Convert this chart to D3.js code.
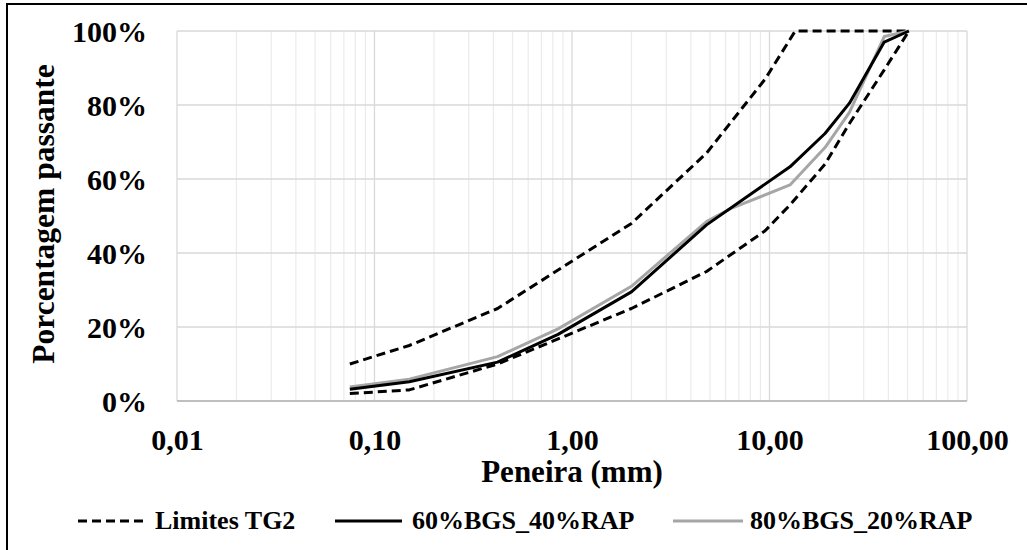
<!DOCTYPE html>
<html lang="pt">
  <head>
    <meta charset="UTF-8" />
    <title>Curva granulométrica</title>
    <style>
      body { margin: 0; background: #fff; }
      text { font-family: "Liberation Serif", "Times New Roman", serif; font-weight: bold; }
    </style>
  </head>
  <body>
    <script src="https://d3js.org/d3.v7.min.js"></script>
    <script>
      // limites da faixa TG2
      const limUpX = [0.075, 0.15, 0.42, 2.0, 4.8, 9.5, 13.5, 50.8];
      const limUpY = [10, 15, 25, 48, 67, 87, 100, 100];
      const limLowX = [0.075, 0.15, 0.42, 2.0, 4.8, 9.5, 12.7, 19.1, 25.4, 38.1, 50.8];
      const limLowY = [2, 3, 10, 25, 35, 46, 53, 64, 75, 89.5, 100];

      // misturas
      const mixAX = [0.075, 0.15, 0.42, 0.85, 2.0, 4.8, 12.7, 19.1, 25.4, 38.1, 50.8];
      const mixAY = [3.2, 5.2, 10.5, 18, 29.5, 47.6, 63.3, 72.3, 80.5, 97, 100];
      const mixBX = [0.075, 0.15, 0.42, 0.85, 2.0, 4.8, 6.35, 12.7, 19.1, 25.4, 38.1, 50.8];
      const mixBY = [3.8, 5.9, 12, 19.5, 31, 48.5, 52, 58.4, 68.5, 78, 98.5, 100];

      const xTicks = [0.01, 0.1, 1, 10, 100];
      const xTickLabels = ["0,01", "0,10", "1,00", "10,00", "100,00"];
      const yTicks = [0, 20, 40, 60, 80, 100];
      const yTickLabels = ["0%", "20%", "40%", "60%", "80%", "100%"];
      const legendNames = ["Limites TG2", "60%BGS_40%RAP", "80%BGS_20%RAP"];

      const W = 1027, H = 550;
      const mLeft = 177, mRight = 967, mTop = 31, mBottom = 401;

      const svg = d3.select("body").append("svg")
        .attr("width", W).attr("height", H);

      // moldura externa
      svg.append("rect")
        .attr("x", 7).attr("y", 4)
        .attr("width", W + 20).attr("height", H + 20)
        .attr("fill", "none").attr("stroke", "#000").attr("stroke-width", 2);

      const x = d3.scaleLog().domain([0.01, 100]).range([mLeft, mRight]);
      const y = d3.scaleLinear().domain([0, 100]).range([mBottom, mTop]);

      // grade secundária
      const minor = [];
      xTicks.slice(0, -1).forEach(d => {
        for (let k = 2; k < 10; k++) minor.push(d * k);
      });
      svg.append("g").selectAll("line").data(minor).join("line")
        .attr("x1", d => x(d)).attr("x2", d => x(d))
        .attr("y1", mTop).attr("y2", mBottom)
        .attr("stroke", "#ebebeb").attr("stroke-width", 1.2);

      // grade principal
      svg.append("g").selectAll("line").data(xTicks).join("line")
        .attr("x1", d => x(d)).attr("x2", d => x(d))
        .attr("y1", mTop).attr("y2", mBottom)
        .attr("stroke", "#d9d9d9").attr("stroke-width", 1.3);
      svg.append("g").selectAll("line").data(yTicks).join("line")
        .attr("x1", mLeft).attr("x2", mRight)
        .attr("y1", d => y(d)).attr("y2", d => y(d))
        .attr("stroke", d => d === 0 ? "#bfbfbf" : "#d9d9d9")
        .attr("stroke-width", d => d === 0 ? 2 : 1.3);

      // eixos
      const xAxis = svg.append("g")
        .attr("transform", `translate(0, ${mBottom})`)
        .call(d3.axisBottom(x).tickValues(xTicks)
          .tickFormat((d, i) => xTickLabels[i]).tickSize(0).tickPadding(0));
      xAxis.select(".domain").remove();
      xAxis.selectAll("text")
        .attr("y", 49).attr("dy", null)
        .attr("font-size", 30).attr("font-family", "Liberation Serif")
        .attr("font-weight", "bold").attr("fill", "#000");

      const yAxis = svg.append("g")
        .attr("transform", `translate(${mLeft}, 0)`)
        .call(d3.axisLeft(y).tickValues(yTicks)
          .tickFormat((d, i) => yTickLabels[i]).tickSize(0).tickPadding(0));
      yAxis.select(".domain").remove();
      yAxis.selectAll("text")
        .attr("x", -30).attr("dy", 10)
        .attr("font-size", 30).attr("font-family", "Liberation Serif")
        .attr("font-weight", "bold").attr("fill", "#000");

      svg.append("text")
        .attr("x", (mLeft + mRight) / 2).attr("y", 482)
        .attr("text-anchor", "middle").attr("font-size", 31)
        .text("Peneira (mm)");

      svg.append("text")
        .attr("transform", `translate(54, 214) rotate(-90)`)
        .attr("text-anchor", "middle").attr("font-size", 31.5)
        .text("Porcentagem passante");

      // curvas
      const line = d3.line().x(d => x(d[0])).y(d => y(d[1]));
      const pairs = (xs, ys) => xs.map((v, i) => [v, ys[i]]);

      const series = [
        { pts: pairs(limUpX, limUpY), color: "#000", dash: "9,5" },
        { pts: pairs(limLowX, limLowY), color: "#000", dash: "9,5" },
        { pts: pairs(mixBX, mixBY), color: "#a6a6a6", dash: null },
        { pts: pairs(mixAX, mixAY), color: "#000", dash: null }
      ];
      series.forEach(s => {
        svg.append("path")
          .attr("d", line(s.pts))
          .attr("fill", "none")
          .attr("stroke", s.color)
          .attr("stroke-width", 3)
          .attr("stroke-dasharray", s.dash)
          .attr("stroke-linejoin", "round");
      });

      // legenda
      const legend = [
        { x1: 78, x2: 147, tx: 155, color: "#000", dash: "9,5" },
        { x1: 335, x2: 402, tx: 412, color: "#000", dash: null },
        { x1: 673, x2: 743, tx: 750, color: "#a6a6a6", dash: null }
      ];
      legend.forEach((l, i) => {
        svg.append("line")
          .attr("x1", l.x1).attr("x2", l.x2)
          .attr("y1", 521).attr("y2", 521)
          .attr("stroke", l.color).attr("stroke-width", 3)
          .attr("stroke-dasharray", l.dash);
        svg.append("text")
          .attr("x", l.tx).attr("y", 529)
          .attr("font-size", 26)
          .text(legendNames[i]);
      });
    </script>
  </body>
</html>
